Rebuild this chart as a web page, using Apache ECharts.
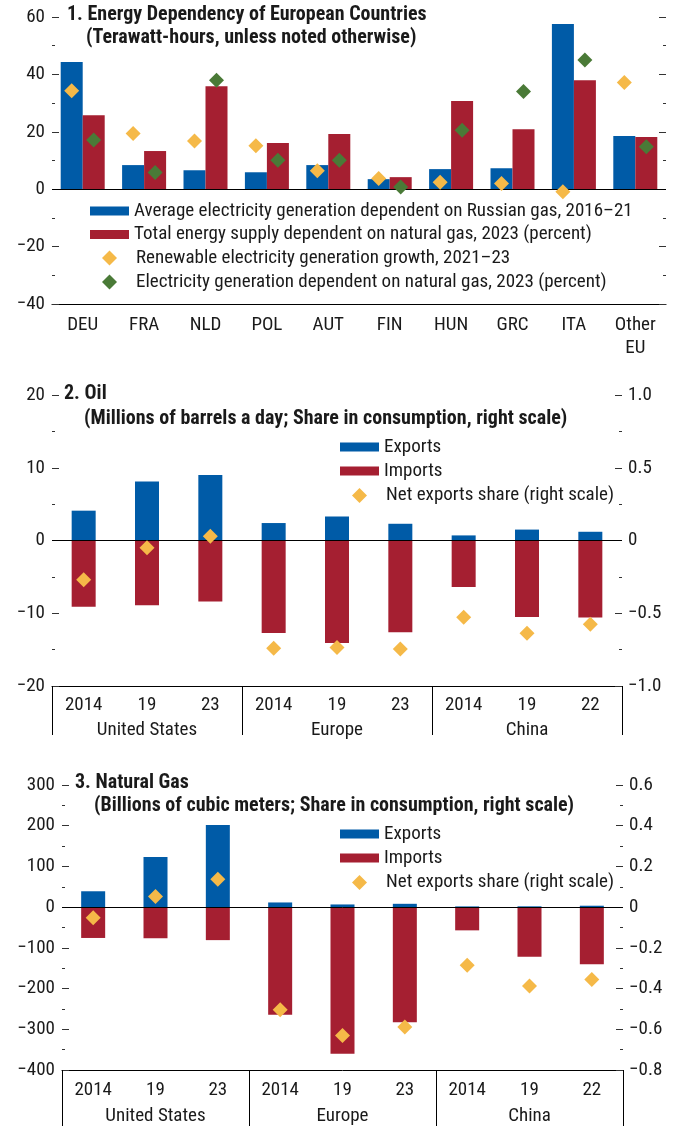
<!DOCTYPE html>
<html>
<head>
<meta charset="utf-8">
<script src="https://cdn.jsdelivr.net/npm/echarts@6/dist/echarts.min.js"></script>
<style>
html,body{margin:0;padding:0;background:#fff;}
#chart{width:682px;height:1127px;}
</style>
</head>
<body>
<div id="chart"></div>
<script>
// ---------- Panel 1 data ----------
const p1Categories = ['DEU','FRA','NLD','POL','AUT','FIN','HUN','GRC','ITA','Other\nEU'];
const p1RussianGasElec = [44.3, 8.4, 6.6, 5.9, 8.4, 3.5, 7.0, 7.3, 57.6, 18.5];
const p1GasShareSupply = [25.8, 13.3, 35.9, 16.1, 19.2, 4.2, 30.7, 20.9, 38.0, 18.2];
const p1RenewGrowth = [34.3, 19.4, 16.8, 15.1, 6.4, 3.7, 2.4, 2.0, -0.9, 37.2];
const p1GasShareElec = [17.1, 5.8, 38.0, 10.1, 10.1, 0.8, 20.5, 34.0, 45.0, 14.8];
const p1LeftTicks = ['\u221240','\u221220','0','20','40','60'];

// ---------- Panel 2/3 shared categories ----------
const yearLabels = ['2014','19','23','2014','19','23','2014','19','22'];
const regionLabels = ['United States','Europe','China'];

// ---------- Panel 2 (Oil) ----------
const oilExports = [4.1, 8.1, 9.0, 2.4, 3.3, 2.3, 0.7, 1.5, 1.2];
const oilImports = [-9.1, -8.9, -8.4, -12.7, -14.1, -12.6, -6.4, -10.5, -10.6];
const oilNetShare = [-0.27, -0.05, 0.03, -0.74, -0.735, -0.745, -0.527, -0.637, -0.575];
const p2LeftTicks = ['\u221220','\u221210','0','10','20'];
const p2RightTicks = ['\u22121.0','\u22120.5','0','0.5','1.0'];

// ---------- Panel 3 (Natural gas) ----------
const gasExports = [39, 123, 202, 11.5, 6.6, 8.2, 1.8, 2.0, 3.5];
const gasImports = [-75.7, -76.4, -81, -264, -360, -283, -57, -122, -140];
const gasNetShare = [-0.052, 0.052, 0.137, -0.504, -0.631, -0.589, -0.285, -0.387, -0.355];
const p3LeftTicks = ['\u2212400','\u2212300','\u2212200','\u2212100','0','100','200','300'];
const p3RightTicks = ['\u22120.8','\u22120.6','\u22120.4','\u22120.2','0','0.2','0.4','0.6'];

const FONT = '"Liberation Sans Narrow", "Arial Narrow", "Roboto Condensed", "DejaVu Sans Condensed", sans-serif';
const TXT = '#1a1a1a';
const BLUE = '#005ba7', RED = '#a51f31', YEL = '#f5b948', GRN = '#4a7a37';
const FS = 19;
const FST = 20;

const chart = echarts.init(document.getElementById('chart'), null, {renderer: 'canvas'});

function yAxis(grid, pos, min, max, interval, labels, showLabel) {
  return {
    type: 'value', gridIndex: grid, position: pos, min, max, interval,
    splitLine: {show: false},
    axisLine: {show: false},
    axisTick: {show: true, inside: true, length: 7, lineStyle: {color: '#333', width: 1}},
    minorTick: {show: true, splitNumber: 2, length: 3, lineStyle: {color: '#333', width: 1}},
    axisLabel: {
      show: showLabel, margin: pos === 'left' ? 7 : 6,
      fontFamily: FONT, fontSize: FS, color: TXT,
      formatter: (v, i) => labels[i]
    }
  };
}

function legendItem(name, left, cy, diamond) {
  return {
    data: [name], orient: 'vertical', left: left, top: cy - 11,
    padding: 0, itemGap: 0, selectedMode: false,
    icon: diamond ? 'diamond' : 'rect',
    itemWidth: diamond ? 15 : 39, itemHeight: diamond ? 15 : 9,
    itemStyle: {opacity: 1},
    textStyle: {fontFamily: FONT, fontSize: FS, color: TXT, lineHeight: 22,
      padding: diamond ? [0, 0, 0, 14] : 0}
  };
}

const zeroLine = {
  silent: true, symbol: 'none', label: {show: false},
  lineStyle: {color: '#000', width: 1, type: 'solid'},
  data: [{yAxis: 0}]
};

const L1a = 'Average electricity generation dependent on Russian gas, 2016\u201321';
const L1b = 'Total energy supply dependent on natural gas, 2023 (percent)';
const L1c = 'Renewable electricity generation growth, 2021\u201323';
const L1d = 'Electricity generation dependent on natural gas, 2023 (percent)';

function titleText(x, y, text, bold) {
  return {type: 'text', left: x, top: y - 12, z: 100,
    style: {text, fontFamily: FONT, fontSize: FST, fontWeight: bold ? 'bold' : 'normal', fill: TXT}};
}

function diamondSeries(name, xi, yi, data, color) {
  return {name, type: 'scatter', xAxisIndex: xi, yAxisIndex: yi, data,
    symbol: 'diamond', symbolSize: 15, itemStyle: {color, opacity: 1}, z: 5};
}

// Panel 1 diamonds sit over the bar slots (laid out like bars), centred on the value.
function diamondBarSeries(name, data, color) {
  return {name, type: 'pictorialBar', xAxisIndex: 0, yAxisIndex: 0,
    data: data.map(v => ({value: v, symbolOffset: [0, v < 0 ? '50%' : '-50%']})),
    symbol: 'diamond', symbolSize: [15, 15], symbolPosition: 'end',
    barWidth: 22, barGap: '0%', itemStyle: {color, opacity: 1}, z: 5};
}

const option = {
  animation: false,
  backgroundColor: '#fff',
  textStyle: {fontFamily: FONT},
  grid: [
    {left: 52, right: 16, top: 17, height: 287},
    {left: 52, right: 60, top: 395, height: 291},
    {left: 62, right: 59, top: 785, height: 287}
  ],
  xAxis: [
    {type: 'category', gridIndex: 0, data: p1Categories, position: 'bottom',
      axisLine: {show: true, onZero: false, lineStyle: {color: '#000', width: 1}},
      axisTick: {show: false},
      axisLabel: {margin: 10, fontFamily: FONT, fontSize: FS, color: TXT, lineHeight: 23, interval: 0}},
    {type: 'category', gridIndex: 1, data: yearLabels, position: 'bottom',
      axisLine: {show: true, onZero: false, lineStyle: {color: '#000', width: 1}},
      axisTick: {show: false},
      axisLabel: {margin: 8, fontFamily: FONT, fontSize: FS, color: TXT, lineHeight: 22, interval: 0}},
    {type: 'category', gridIndex: 1, data: regionLabels, position: 'bottom',
      axisLine: {show: false, onZero: false},
      axisTick: {show: true, length: 49, lineStyle: {color: '#000', width: 1}},
      axisLabel: {margin: 33, fontFamily: FONT, fontSize: FS, color: TXT, lineHeight: 22, interval: 0}},
    {type: 'category', gridIndex: 2, data: yearLabels, position: 'bottom',
      axisLine: {show: true, onZero: false, lineStyle: {color: '#000', width: 1}},
      axisTick: {show: false},
      axisLabel: {margin: 9, fontFamily: FONT, fontSize: FS, color: TXT, lineHeight: 22, interval: 0}},
    {type: 'category', gridIndex: 2, data: regionLabels, position: 'bottom',
      axisLine: {show: false, onZero: false},
      axisTick: {show: true, length: 56, lineStyle: {color: '#000', width: 1}},
      axisLabel: {margin: 35, fontFamily: FONT, fontSize: FS, color: TXT, lineHeight: 22, interval: 0}}
  ],
  yAxis: [
    yAxis(0, 'left', -40, 60, 20, p1LeftTicks, true),
    yAxis(0, 'right', -40, 60, 20, p1LeftTicks, false),
    yAxis(1, 'left', -20, 20, 10, p2LeftTicks, true),
    yAxis(1, 'right', -1, 1, 0.5, p2RightTicks, true),
    yAxis(2, 'left', -400, 300, 100, p3LeftTicks, true),
    yAxis(2, 'right', -0.8, 0.6, 0.2, p3RightTicks, true)
  ],
  legend: [
    legendItem(L1a, 90, 211, false),
    legendItem(L1b, 90, 234.5, false),
    legendItem(L1c, 102, 258, true),
    legendItem(L1d, 102, 282, true),
    legendItem('Exports', 340, 447, false),
    legendItem('Imports', 340, 471, false),
    legendItem('Net exports share (right scale)', 352, 495.5, true),
    legendItem('Exports', 340, 834, false),
    legendItem('Imports', 340, 858, false),
    legendItem('Net exports share (right scale)', 352, 882.5, true)
  ],
  series: [
    {name: L1a, type: 'bar', xAxisIndex: 0, yAxisIndex: 0, data: p1RussianGasElec,
      barWidth: 22, barGap: '0%', itemStyle: {color: BLUE}, markLine: zeroLine},
    {name: L1b, type: 'bar', xAxisIndex: 0, yAxisIndex: 0, data: p1GasShareSupply,
      barWidth: 22, barGap: '0%', itemStyle: {color: RED}},
    diamondBarSeries(L1c, p1RenewGrowth, YEL),
    diamondBarSeries(L1d, p1GasShareElec, GRN),

    {name: 'Exports', type: 'bar', xAxisIndex: 1, yAxisIndex: 2, data: oilExports,
      barWidth: 24, barGap: '-100%', itemStyle: {color: BLUE}, markLine: zeroLine},
    {name: 'Imports', type: 'bar', xAxisIndex: 1, yAxisIndex: 2, data: oilImports,
      barWidth: 24, barGap: '-100%', itemStyle: {color: RED}},
    diamondSeries('Net exports share (right scale)', 1, 3, oilNetShare, YEL),

    {name: 'Exports', type: 'bar', xAxisIndex: 3, yAxisIndex: 4, data: gasExports,
      barWidth: 24, barGap: '-100%', itemStyle: {color: BLUE}, markLine: zeroLine},
    {name: 'Imports', type: 'bar', xAxisIndex: 3, yAxisIndex: 4, data: gasImports,
      barWidth: 24, barGap: '-100%', itemStyle: {color: RED}},
    diamondSeries('Net exports share (right scale)', 3, 5, gasNetShare, YEL)
  ],
  graphic: [
    titleText(67, 17, '1. Energy Dependency of European Countries', true),
    titleText(86, 40, '(Terawatt-hours, unless noted otherwise)', true),
    titleText(64, 396, '2. Oil', true),
    titleText(84, 421, '(Millions of barrels a day; Share in consumption, right scale)', true),
    titleText(75, 785, '3. Natural Gas', true),
    titleText(94, 808, '(Billions of cubic meters; Share in consumption, right scale)', true)
  ]
};
chart.setOption(option);
</script>
</body>
</html>
